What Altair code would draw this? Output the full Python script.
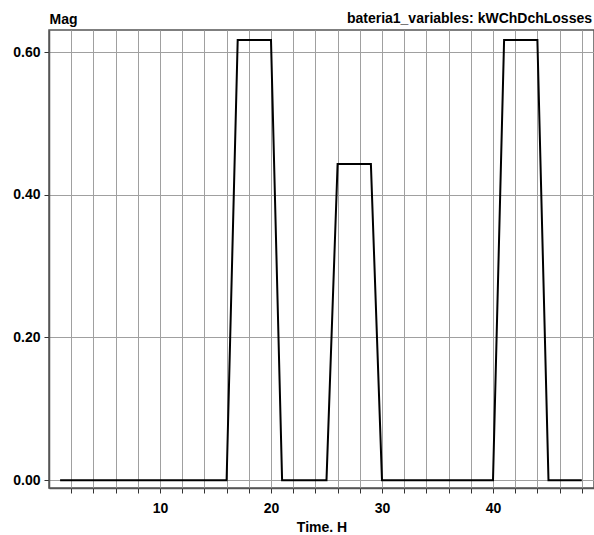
import altair as alt
import pandas as pd

hours = list(range(1, 49))
values = ([0.0] * 16 + [0.617] * 4 + [0.0] * 5 + [0.443] * 4 +
          [0.0] * 11 + [0.617] * 4 + [0.0] * 4)
x_ticks = list(range(2, 49, 2))
y_ticks = [0.0, 0.2, 0.4, 0.6]

df = pd.DataFrame({"hour": hours, "value": values})

FONT = "Liberation Sans"

chart = alt.Chart(df).mark_line(color="black", strokeWidth=2, strokeJoin="miter").encode(
    x=alt.X("hour:Q", scale=alt.Scale(domain=[0, 49.1], nice=False, zero=False),
            axis=alt.Axis(values=x_ticks, title="Time. H", grid=True,
                          labelExpr="datum.value % 10 == 0 ? datum.label : ''",
                          tickSize=5, labelPadding=8, titlePadding=5)),
    y=alt.Y("value:Q", scale=alt.Scale(domain=[-0.011, 0.631], nice=False, zero=False),
            axis=alt.Axis(values=y_ticks, format=".2f", title="Mag", grid=True,
                          tickSize=5, labelPadding=4,
                          titleAngle=0, titleAlign="left", titleBaseline="alphabetic",
                          titleX=0, titleY=-7)),
).properties(
    width=545, height=458,
    autosize=alt.AutoSizeParams(type="none"),
    padding={"left": 49, "top": 30, "right": 0, "bottom": 47},
    title=alt.TitleParams("bateria1_variables: kWChDchLosses", anchor="end",
                          font=FONT, fontSize=14, fontWeight="bold", color="black",
                          offset=-14, dx=-2),
).configure_view(
    stroke="#555555", strokeWidth=1.5
).configure_axis(
    labelFont=FONT, labelFontSize=14, labelFontWeight="bold", labelColor="black",
    titleFont=FONT, titleFontSize=14, titleFontWeight="bold", titleColor="black",
    gridColor="#a0a0a0", gridOpacity=1, gridWidth=1,
    domainColor="#555555", domainWidth=1.5,
    tickColor="#333333", tickWidth=1,
)

chart.save("out.html", embed_options={"renderer": "svg", "actions": False})
